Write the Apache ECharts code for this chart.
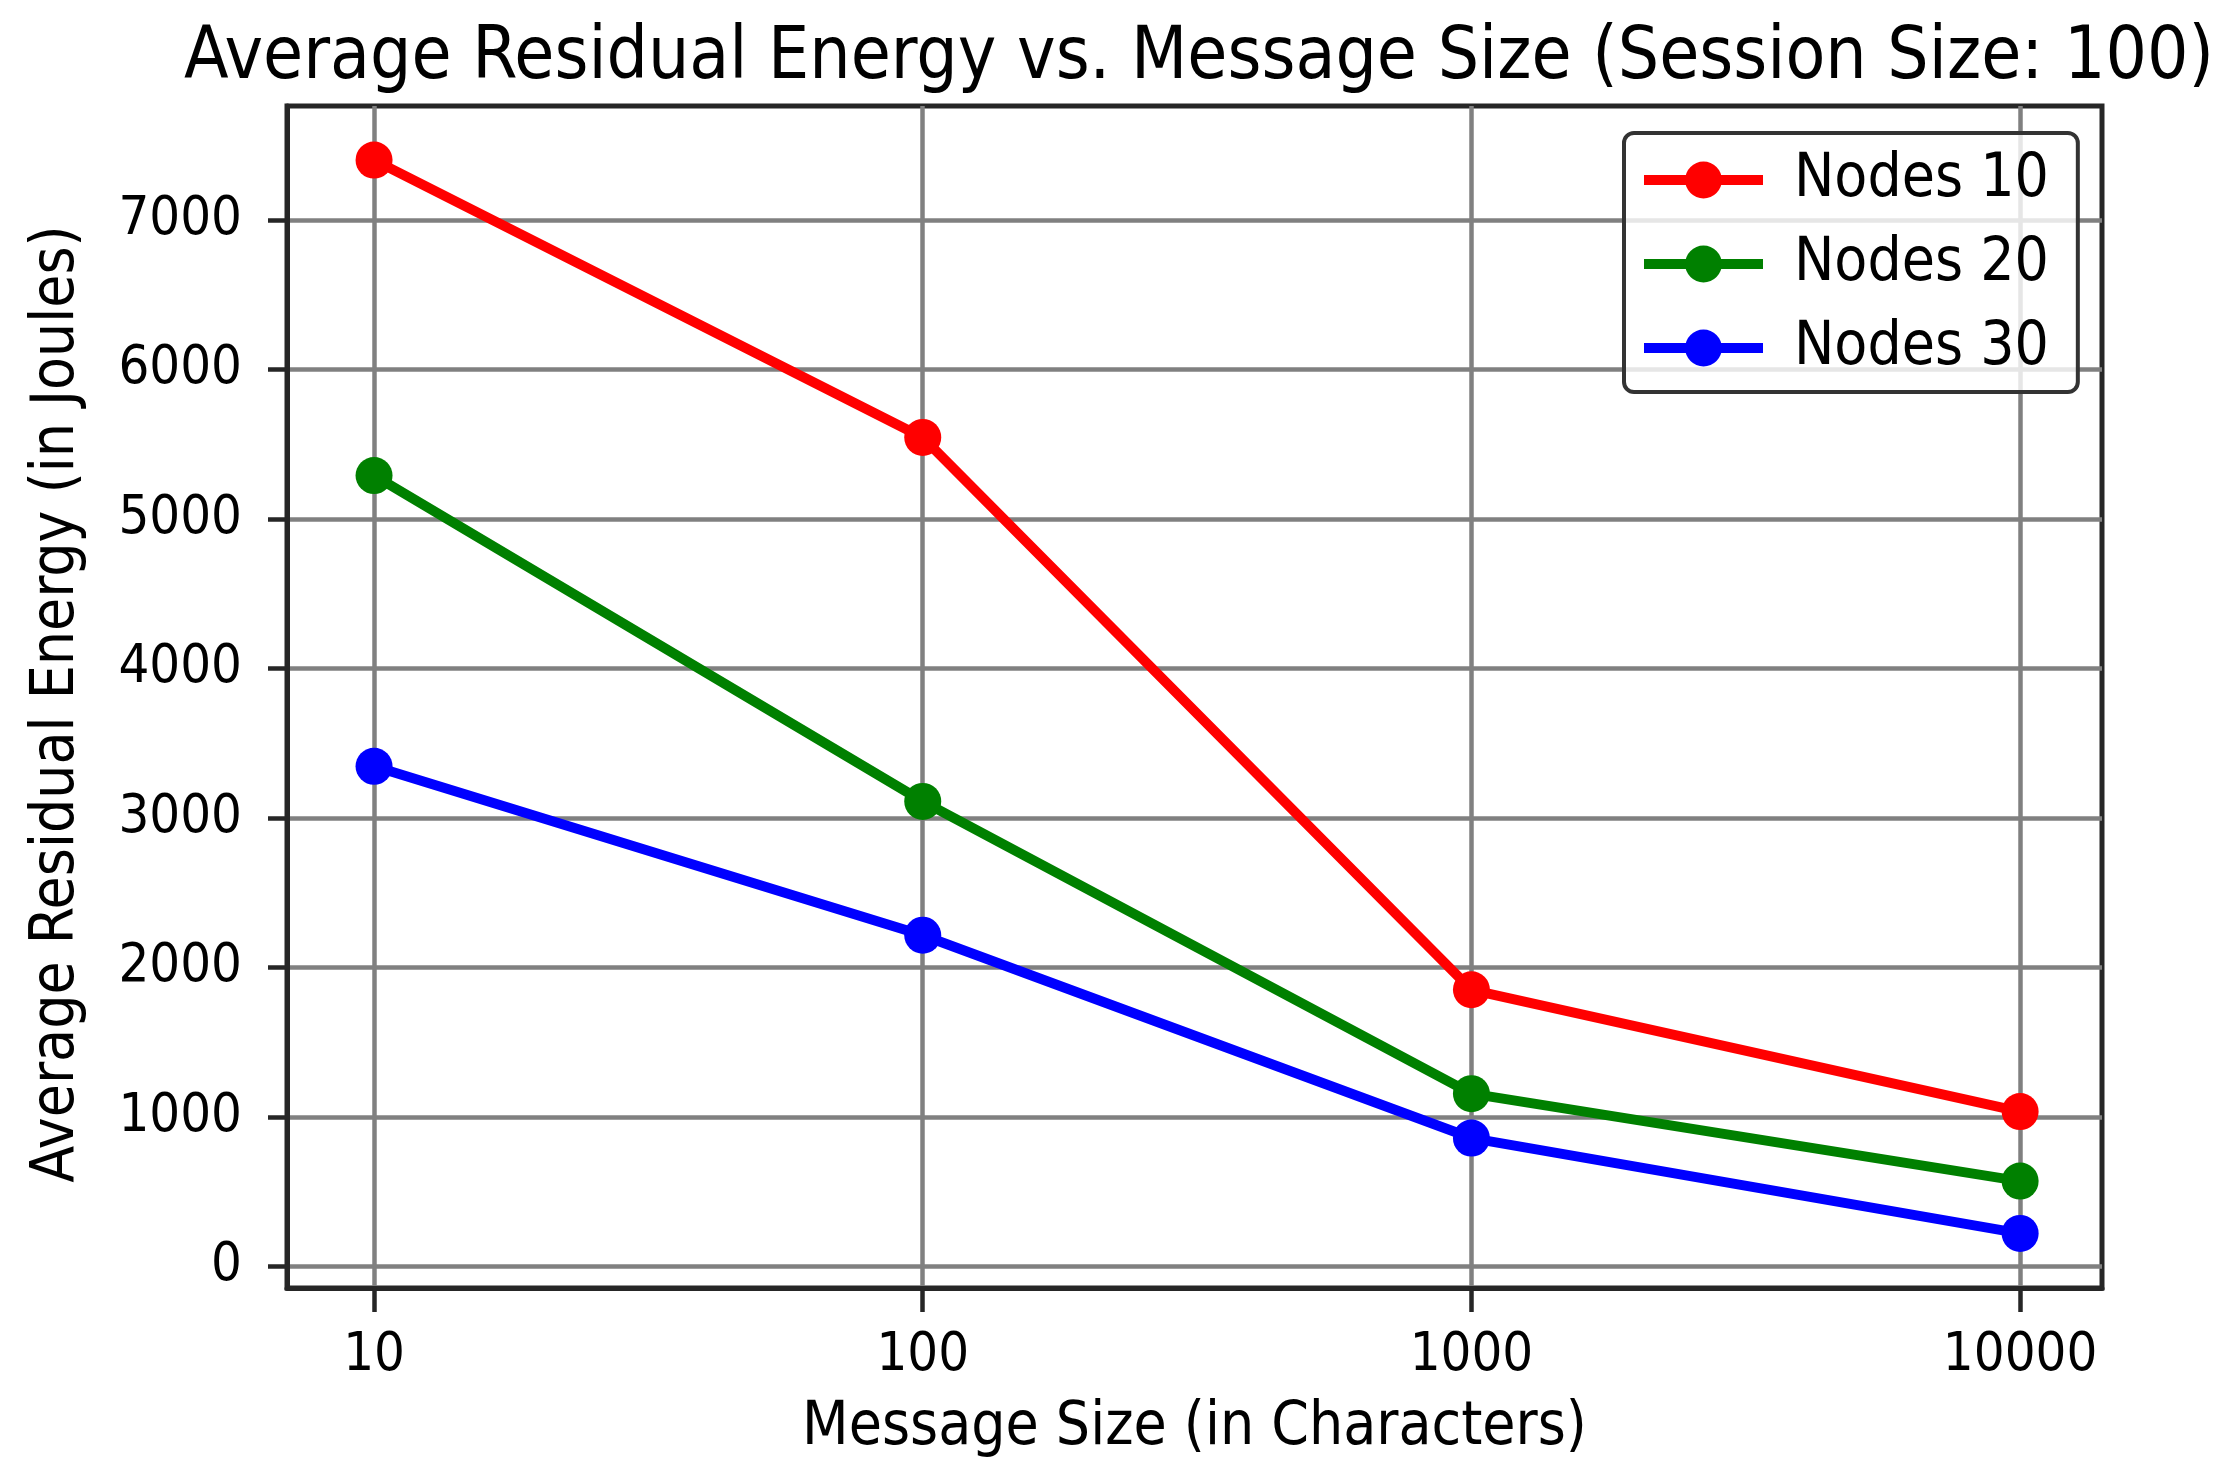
<!DOCTYPE html>
<html>
<head>
<meta charset="utf-8">
<title>Average Residual Energy vs. Message Size</title>
<script src="https://cdn.jsdelivr.net/npm/echarts@6/dist/echarts.min.js"></script>
<style>
  html, body { margin: 0; padding: 0; background: #fff; }
  #chart { width: 2226px; height: 1481px; }
</style>
</head>
<body>
<div id="chart"></div>
<script>
// message sizes (in characters), log axis
var messageSizes = [10, 100, 1000, 10000];

// average residual energy (J)
var nodes10 = [7400, 5545, 1850, 1035];
var nodes20 = [5290, 3110, 1155, 570];
var nodes30 = [3345, 2215, 858, 220];

var seriesNames = ['Nodes 10', 'Nodes 20', 'Nodes 30'];
var yTicks = [0, 1000, 2000, 3000, 4000, 5000, 6000, 7000];

var FONT = "'DejaVu Sans Condensed', 'DejaVu Sans', sans-serif";

function pairs(xs, ys) {
  var out = [];
  for (var i = 0; i < xs.length; i++) {
    out.push([xs[i], ys[i]]);
  }
  return out;
}

function lineSeries(name, values, color) {
  return {
    name: name,
    type: 'line',
    data: pairs(messageSizes, values),
    symbol: 'circle',
    symbolSize: 37,
    showAllSymbol: true,
    lineStyle: { color: color, width: 10 },
    itemStyle: { color: color },
    emphasis: { disabled: true },
    z: 3
  };
}

var chart = echarts.init(document.getElementById('chart'));

chart.setOption({
  animation: false,
  backgroundColor: '#ffffff',
  title: {
    text: 'Average Residual Energy vs. Message Size (Session Size: 100)',
    left: 1194,
    top: 18,
    textAlign: 'center',
    textStyle: { fontFamily: FONT, fontSize: 72.5, fontWeight: 'normal', color: '#000' }
  },
  grid: {
    left: 287,
    right: 124,
    top: 106,
    bottom: 193,
    show: true,
    borderColor: '#262626',
    borderWidth: 5,
    backgroundColor: '#fff'
  },
  legend: {
    data: seriesNames,
    orient: 'vertical',
    left: 1624,
    top: 133,
    padding: [17, 29, 14, 15],
    itemWidth: 119,
    itemHeight: 46,
    itemGap: 24,
    lineStyle: { width: 10 },
    backgroundColor: 'rgba(255,255,255,0.8)',
    borderColor: '#333',
    borderWidth: 4,
    borderRadius: 10,
    textStyle: { fontFamily: FONT, fontSize: 60, color: '#000', padding: [0, 0, 0, 26] }
  },
  xAxis: {
    type: 'log',
    logBase: 10,
    min: 6.94,
    max: 14100,
    name: 'Message Size (in Characters)',
    nameLocation: 'middle',
    nameGap: 110,
    nameTextStyle: { fontFamily: FONT, fontSize: 60, color: '#000' },
    axisLine: { show: true, onZero: false, lineStyle: { color: '#262626', width: 5 } },
    axisTick: { show: true, length: 24, customValues: messageSizes, lineStyle: { color: '#262626', width: 4.5 } },
    axisLabel: {
      customValues: messageSizes,
      margin: 41,
      fontFamily: FONT,
      fontSize: 54,
      color: '#000',
      formatter: function (v) { return String(Math.round(v)); }
    },
    splitLine: { show: true, lineStyle: { color: '#808080', width: 4.5 } },
    minorTick: { show: false },
    minorSplitLine: { show: false }
  },
  yAxis: {
    type: 'value',
    min: -145,
    max: 7762,
    splitNumber: 8,
    name: 'Average Residual Energy (in Joules)',
    nameLocation: 'middle',
    nameRotate: 90,
    nameGap: 200,
    nameTextStyle: { fontFamily: FONT, fontSize: 60, color: '#000', padding: [0, 14, 0, 0] },
    axisLine: { show: true, onZero: false, lineStyle: { color: '#262626', width: 5 } },
    axisTick: { show: true, length: 19, customValues: yTicks, lineStyle: { color: '#262626', width: 4.5 } },
    axisLabel: {
      customValues: yTicks,
      margin: 45,
      fontFamily: FONT,
      fontSize: 54,
      color: '#000',
      formatter: function (v) { return String(v); }
    },
    splitLine: { show: true, lineStyle: { color: '#808080', width: 4.5 } }
  },
  series: [
    lineSeries(seriesNames[0], nodes10, '#ff0000'),
    lineSeries(seriesNames[1], nodes20, '#008000'),
    lineSeries(seriesNames[2], nodes30, '#0000ff')
  ]
});
</script>
</body>
</html>
